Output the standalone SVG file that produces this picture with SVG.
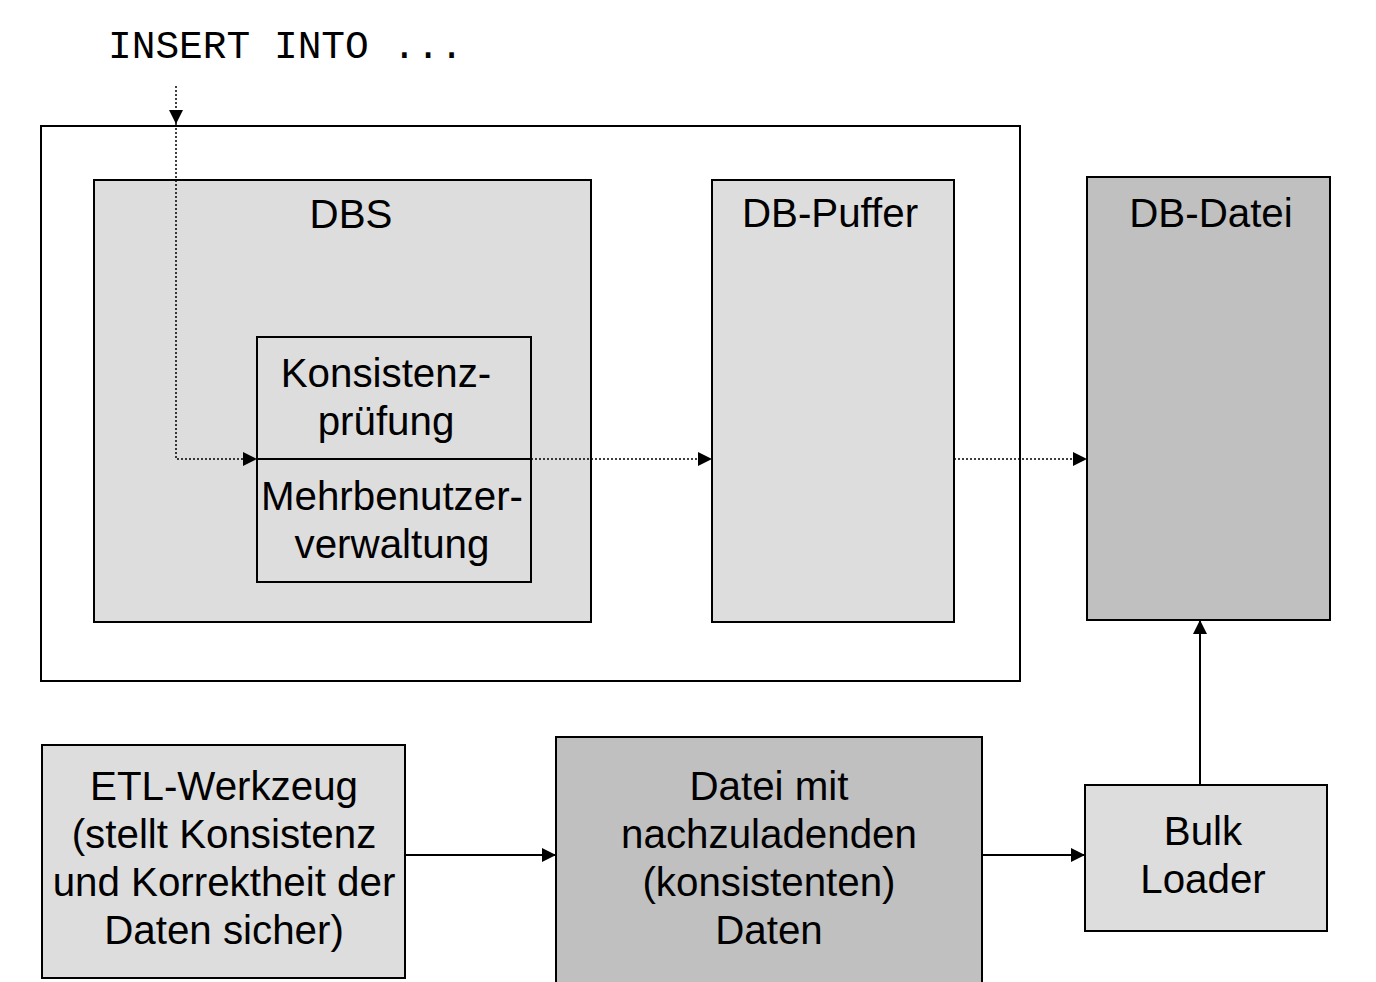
<svg xmlns="http://www.w3.org/2000/svg" width="1376" height="982" viewBox="0 0 1376 982">
<style>
.box{stroke:#000;stroke-width:2}
.l{fill:#dddddd}
.d{fill:#c0c0c0}
.t{font-family:"Liberation Sans",Arial,sans-serif;font-size:40.3px;fill:#000;text-anchor:middle}
.m{font-family:"Liberation Mono","Courier New",monospace;font-size:39.5px;fill:#000}
.dot{fill:none;stroke:#000;stroke-width:1.5;stroke-dasharray:2 2}
.sol{fill:none;stroke:#000;stroke-width:2}
</style>
<defs>
<marker id="ah" viewBox="0 0 10 10" refX="10" refY="5" markerWidth="14" markerHeight="14" markerUnits="userSpaceOnUse" orient="auto">
<path d="M0,0 L10,5 L0,10 z" fill="#000"/>
</marker>
</defs>
<rect width="1376" height="982" fill="#fff"/>
<text class="m" x="108" y="58">INSERT INTO ...</text>
<g id="outer"><rect class="box" x="41" y="126" width="979" height="555" fill="#fff"/></g>
<g id="dbs"><rect class="box l" x="94" y="180" width="497" height="442"/><text class="t" x="351" y="228">DBS</text></g>
<g id="konsistenz"><rect class="box l" x="257" y="337" width="274" height="245"/><line class="sol" x1="257" y1="459" x2="531" y2="459"/>
<text class="t" x="386" y="387">Konsistenz-</text><text class="t" x="386" y="435">prüfung</text>
<text class="t" x="392" y="510">Mehrbenutzer-</text><text class="t" x="392" y="558">verwaltung</text></g>
<g id="dbpuffer"><rect class="box l" x="712" y="180" width="242" height="442"/><text class="t" x="830" y="227">DB-Puffer</text></g>
<g id="dbdatei"><rect class="box d" x="1087" y="177" width="243" height="443"/><text class="t" x="1211" y="227">DB-Datei</text></g>
<g id="etl"><rect class="box l" x="42" y="745" width="363" height="233"/>
<text class="t" x="224" y="800">ETL-Werkzeug</text><text class="t" x="224" y="848">(stellt Konsistenz</text><text class="t" x="224" y="896">und Korrektheit der</text><text class="t" x="224" y="944">Daten sicher)</text></g>
<g id="datei"><rect class="box d" x="556" y="737" width="426" height="260"/>
<text class="t" x="769" y="800">Datei mit</text><text class="t" x="769" y="848">nachzuladenden</text><text class="t" x="769" y="896">(konsistenten)</text><text class="t" x="769" y="944">Daten</text></g>
<g id="bulk"><rect class="box l" x="1085" y="785" width="242" height="146"/>
<text class="t" x="1203" y="845">Bulk</text><text class="t" x="1203" y="893">Loader</text></g>
<g id="connectors">
<line class="dot" x1="176" y1="86" x2="176" y2="124" marker-end="url(#ah)"/>
<polyline class="dot" points="176,124 176,459 257,459" marker-end="url(#ah)"/>
<line class="dot" x1="531" y1="459" x2="712" y2="459" marker-end="url(#ah)"/>
<line class="dot" x1="954" y1="459" x2="1087" y2="459" marker-end="url(#ah)"/>
<line class="sol" x1="405" y1="855" x2="556" y2="855" marker-end="url(#ah)"/>
<line class="sol" x1="982" y1="855" x2="1085" y2="855" marker-end="url(#ah)"/>
<line class="sol" x1="1200" y1="785" x2="1200" y2="620" marker-end="url(#ah)"/>
</g>
</svg>
